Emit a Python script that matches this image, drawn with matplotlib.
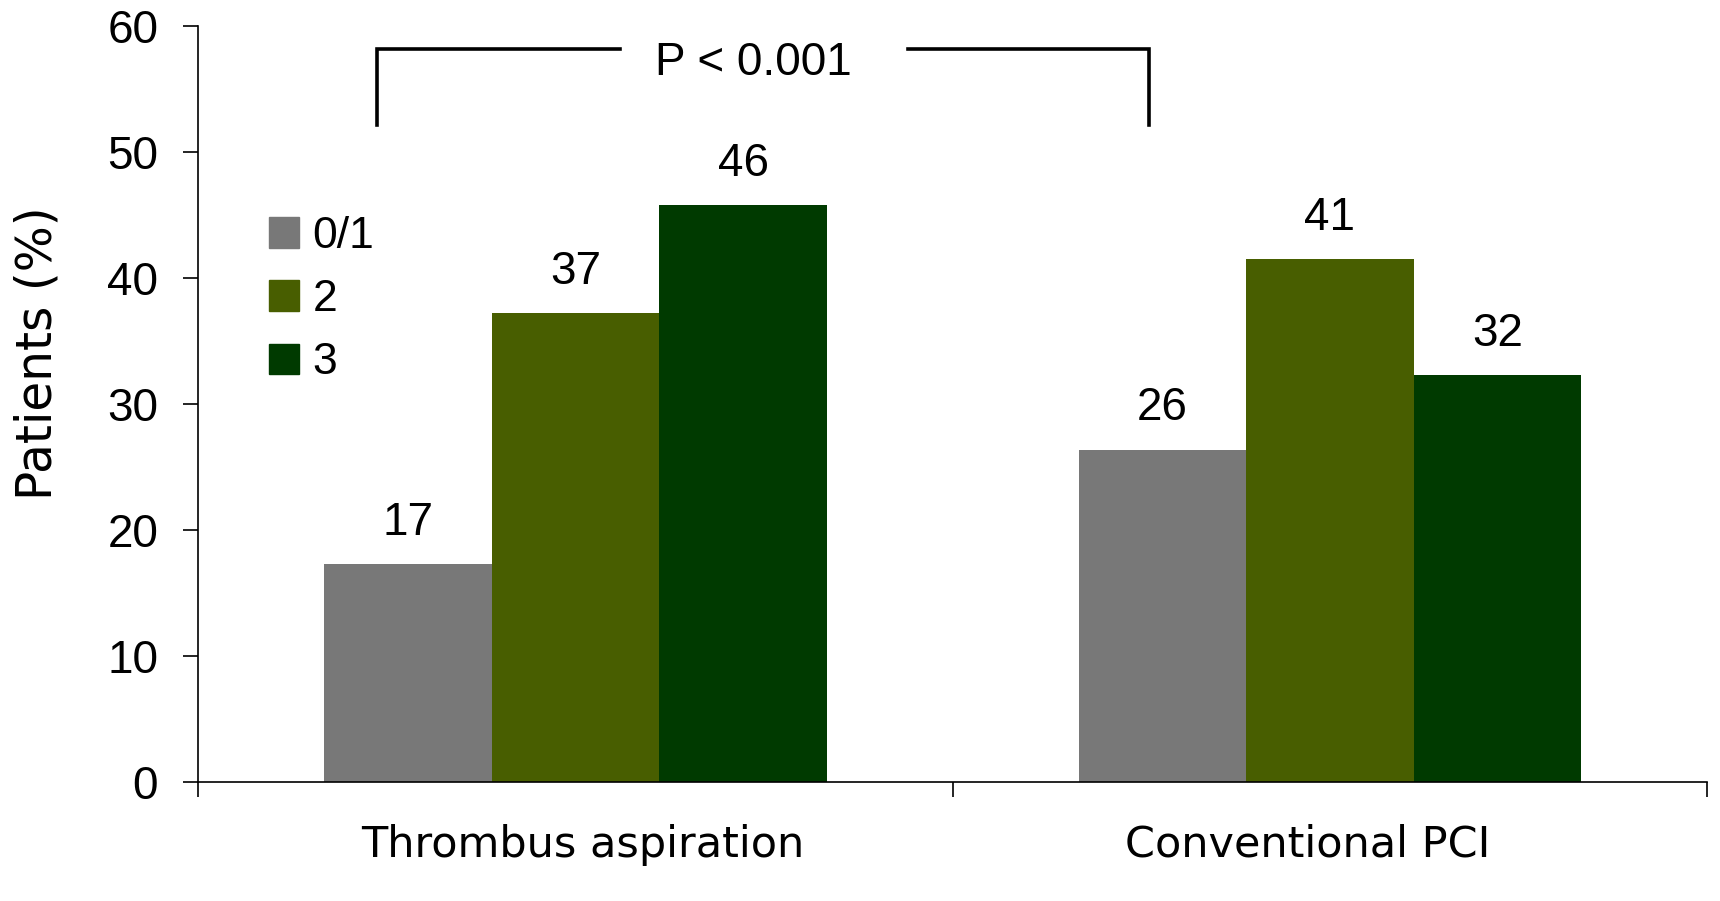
import matplotlib.pyplot as plt
from matplotlib.patches import Patch
import numpy as np

categories = ["Thrombus aspiration", "Conventional PCI"]
series_names = ["0/1", "2", "3"]
grade_01 = [17.3, 26.4]
grade_2 = [37.2, 41.5]
grade_3 = [45.8, 32.3]
bar_labels = [["17", "26"], ["37", "41"], ["46", "32"]]
colors = ["#787878", "#485E00", "#003A00"]

num_font = "Liberation Sans"
txt_font = "DejaVu Sans"

fig = plt.figure(figsize=(17.2, 9.01), dpi=100)
ax = fig.add_axes([0.1154, 0.132, 0.877, 0.8388])

x = np.arange(len(categories))
w = 0.222
for i, vals in enumerate([grade_01, grade_2, grade_3]):
    bars = ax.bar(x + (i - 1) * w, vals, width=w, color=colors[i], label=series_names[i])
    for b, lab in zip(bars, bar_labels[i]):
        ax.annotate(lab, (b.get_x() + b.get_width() / 2, b.get_height()),
                    xytext=(0, 14), textcoords="offset points",
                    ha="center", va="bottom", fontsize=33, family=num_font)

ax.set_xlim(-0.5, 1.5)
ax.set_ylim(0, 60)
ax.set_yticks(range(0, 61, 10))
# category labels sit slightly off the group centres in the original
ax.set_xticks(x + np.array([0.01, -0.03]))
ax.set_xticklabels(categories, fontsize=31, family=txt_font)
ax.set_xticks([-0.5, 0.5, 1.5], minor=True)
ax.tick_params(axis="x", which="major", length=0, pad=30)
ax.tick_params(axis="x", which="minor", length=11, width=1.2, direction="out")
ax.tick_params(axis="y", length=11, width=1.2, labelsize=33, pad=18)
for t in ax.get_yticklabels():
    t.set_family(num_font)
ax.set_ylabel("Patients (%)", fontsize=35, family=txt_font)
ax.yaxis.set_label_coords(-0.0905, 0.568)

for s in ["top", "right"]:
    ax.spines[s].set_visible(False)
ax.spines["left"].set_linewidth(1.2)
ax.spines["bottom"].set_linewidth(1.2)

# significance bracket
lw = 2.6
ax.plot([-0.263, -0.263, 0.059], [52.2, 58.2, 58.2], color="black", lw=lw,
        solid_joinstyle="miter", clip_on=False)
ax.plot([0.441, 0.760, 0.760], [58.2, 58.2, 52.2], color="black", lw=lw,
        solid_joinstyle="miter", clip_on=False)
ax.text(0.236, 56.1, "P < 0.001", ha="center", va="baseline", fontsize=33, family=num_font)

handles = [Patch(color=c) for c in colors]
ax.legend(handles, series_names, loc="upper left", bbox_to_anchor=(0.0466, 0.749),
          frameon=False, handlelength=0.68, handleheight=0.68, handletextpad=0.3,
          labelspacing=0.5, borderaxespad=0, borderpad=0,
          prop={"family": num_font, "size": 32})

fig.savefig("out.png", dpi=100)
